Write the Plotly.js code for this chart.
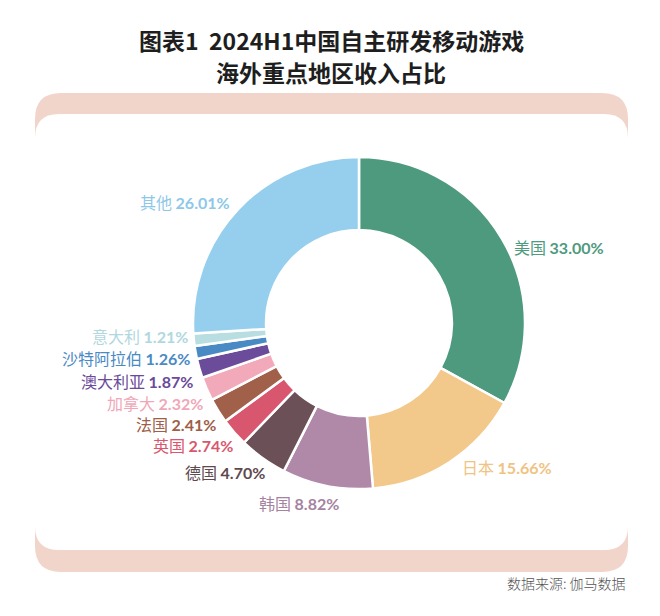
<!DOCTYPE html>
<html>
<head>
<meta charset="utf-8">
<script src="https://cdn.plot.ly/plotly-3.0.1.min.js"></script>
<style>html,body{margin:0;padding:0;background:#fff;}#chart{width:660px;height:616px;}</style>
</head>
<body>
<div id="chart"></div>
<script>
// ---- data ----
const regions = ["美国", "日本", "韩国", "德国", "英国", "法国", "加拿大", "澳大利亚", "沙特阿拉伯", "意大利", "其他"];
const shares  = [33.00, 15.66, 8.82, 4.70, 2.74, 2.41, 2.32, 1.87, 1.26, 1.21, 26.01];
const sliceColors = ["#4E9A7E", "#F2C98A", "#B088A8", "#6B5157", "#D9576E", "#A0604A", "#F2AABA", "#6B4C9A", "#4A8AC4", "#B9DEE2", "#96CFEE"];
const labelColors = ["#4E9A7E", "#EFC384", "#A583A0", "#5E4A4E", "#D9576E", "#9E5E48", "#F0A8B8", "#6A4A9A", "#4A8AC4", "#B0D8DE", "#8DC8E8"];
const titleLines = ["图表1  2024H1中国自主研发移动游戏", "海外重点地区收入占比"];
const sourceText = "数据来源: 伽马数据";

// ---- label layout (pixel positions in the 660x616 frame) ----
const labelLayout = [
  {x: 512, y: 247, anchor: "left"},   // 美国
  {x: 460, y: 467, anchor: "left"},   // 日本
  {x: 257, y: 503, anchor: "left"},   // 韩国
  {x: 267, y: 472, anchor: "right"},  // 德国
  {x: 235, y: 445, anchor: "right"},  // 英国
  {x: 218, y: 424, anchor: "right"},  // 法国
  {x: 205, y: 403, anchor: "right"},  // 加拿大
  {x: 195, y: 381, anchor: "right"},  // 澳大利亚
  {x: 192, y: 358, anchor: "right"},  // 沙特阿拉伯
  {x: 190, y: 336, anchor: "right"},  // 意大利
  {x: 232, y: 202, anchor: "right"}   // 其他
];

const W = 660, H = 616;
function rr(x0, y0, x1, y1, r) {
  return `M ${x0+r},${y0} H ${x1-r} Q ${x1},${y0} ${x1},${y0+r} V ${y1-r} Q ${x1},${y1} ${x1-r},${y1} H ${x0+r} Q ${x0},${y1} ${x0},${y1-r} V ${y0+r} Q ${x0},${y0} ${x0+r},${y0} Z`;
}

const pie = {
  type: "pie",
  labels: regions,
  values: shares,
  marker: {colors: sliceColors, line: {color: "#ffffff", width: 2.5}},
  sort: false,
  direction: "clockwise",
  rotation: 0,
  hole: 0.56,
  textinfo: "none",
  hoverinfo: "label+percent",
  showlegend: false,
  domain: {x: [193 / W, 525 / W], y: [1 - 489 / H, 1 - 157 / H]}
};
const dummy = {type: "scatter", x: [], y: [], hoverinfo: "skip", showlegend: false};

const annotations = regions.map((r, i) => ({
  xref: "x", yref: "y",
  x: labelLayout[i].x, y: labelLayout[i].y,
  xanchor: labelLayout[i].anchor, yanchor: "middle",
  showarrow: false,
  text: `${r} <span style="font-family:Lato, 'Open Sans', sans-serif;font-weight:bold">${shares[i].toFixed(2)}%</span>`,
  font: {family: "'Noto Sans CJK SC', sans-serif", size: 16, color: labelColors[i]}
}));
const titleY = [40, 72];
titleLines.forEach((t, i) => annotations.push({
  xref: "x", yref: "y", x: 331, y: titleY[i], xanchor: "center", yanchor: "middle",
  showarrow: false, text: t,
  font: {family: "'Noto Sans CJK SC', sans-serif", size: 23, color: "#1e1e1e", weight: "bold"}
}));
annotations.push({
  xref: "x", yref: "y", x: 628, y: 583, xanchor: "right", yanchor: "middle",
  showarrow: false, text: sourceText,
  font: {family: "'Noto Sans CJK SC', sans-serif", size: 14, color: "#555555", weight: 300}
});

const layout = {
  width: W, height: H,
  margin: {l: 0, r: 0, t: 0, b: 0},
  paper_bgcolor: "#ffffff", plot_bgcolor: "rgba(0,0,0,0)",
  xaxis: {range: [0, W], visible: false, fixedrange: true},
  yaxis: {range: [H, 0], visible: false, fixedrange: true},
  shapes: [
    {type: "path", xref: "x", yref: "y", layer: "below", path: rr(35, 93, 628, 572, 26), fillcolor: "#F1D5CA", line: {width: 0}},
    {type: "path", xref: "x", yref: "y", layer: "below", path: rr(35, 114, 628, 550, 24), fillcolor: "#ffffff", line: {width: 0}}
  ],
  annotations: annotations
};

Plotly.newPlot("chart", [dummy, pie], layout, {displayModeBar: false, staticPlot: true});
</script>
</body>
</html>
